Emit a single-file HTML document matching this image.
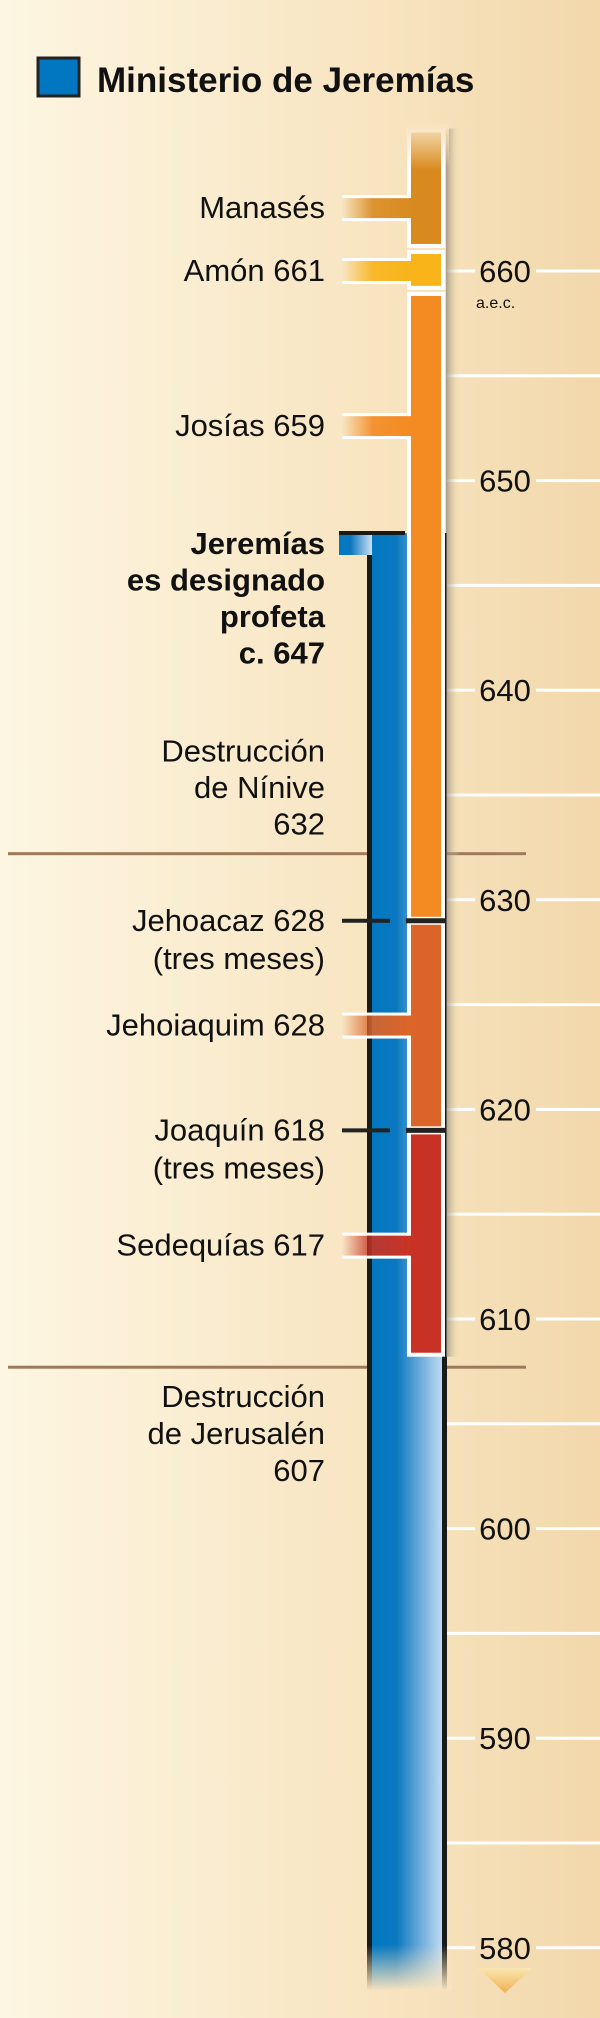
<!DOCTYPE html>
<html><head><meta charset="utf-8"><style>
html,body{margin:0;padding:0;width:600px;height:2018px;overflow:hidden}
svg{display:block}
text{font-family:"Liberation Sans",sans-serif;fill:#111}
</style></head><body>
<svg id="chart" width="600" height="2018" viewBox="0 0 600 2018" xmlns="http://www.w3.org/2000/svg">
<defs>
<linearGradient id="bg" x1="0" x2="1" y1="0" y2="0"><stop offset="0" stop-color="#fdf6e2"/><stop offset="0.6" stop-color="#f8e5c2"/><stop offset="1" stop-color="#f2d8ab"/></linearGradient>
<linearGradient id="blueg" x1="0" x2="1"><stop offset="0" stop-color="#0077c0"/><stop offset="0.35" stop-color="#0a78c0"/><stop offset="1" stop-color="#cde0f4"/></linearGradient>
<linearGradient id="shadow" x1="0" x2="1"><stop offset="0" stop-color="#8a8070" stop-opacity="0.7"/><stop offset="1" stop-color="#f5e0b8" stop-opacity="0"/></linearGradient>
<linearGradient id="fadeBottom" x1="0" x2="0" y1="0" y2="1"><stop offset="0" stop-color="#f7e3bf" stop-opacity="0"/><stop offset="1" stop-color="#f7e3bf" stop-opacity="1"/></linearGradient>
<linearGradient id="fadeTop" x1="0" x2="0" y1="0" y2="1"><stop offset="0" stop-color="#f7e3bf" stop-opacity="1"/><stop offset="1" stop-color="#f7e3bf" stop-opacity="0"/></linearGradient>
<linearGradient id="arrowg" x1="0" x2="0" y1="0" y2="1"><stop offset="0" stop-color="#fbe6b0"/><stop offset="1" stop-color="#f0b050"/></linearGradient>
</defs>
<rect x="0" y="0" width="600" height="2018" fill="url(#bg)"/>
<rect x="38" y="58" width="41" height="38" fill="#0077c0" stroke="#222" stroke-width="3"/>
<text x="97" y="92" font-size="35" font-weight="bold">Ministerio de Jeremías</text>
<g id="layer"></g>
</svg>
<script>
// ---- data ----
const reignNames = ["Manasés","Amón","Josías","Jehoiaquim","Sedequías"];
const reignStart = [666.8, 661, 659, 629, 619];
const reignEnd   = [661.1, 659.1, 629, 619, 608.2];
const reignLabels = ["Manasés","Amón 661","Josías 659","Jehoiaquim 628","Sedequías 617"];
const reignLabelYear = [663.0, 660.0, 652.6, 624.0, 613.5];
const reignColors = ["#d98a1f","#f8b419","#f48a22","#dc6428","#c83224"];
const markerYears = [629, 619];
const markerLabels = [["Jehoacaz 628","(tres meses)"],["Joaquín 618","(tres meses)"]];
const ministryStart = 647.5;
const ministryEnd = 578;
const eventYears = [632.2, 607.7];
const eventLabels = [["Destrucción","de Nínive","632"],["Destrucción","de Jerusalén","607"]];
const tickYears = [660,655,650,645,640,635,630,625,620,615,610,605,600,595,590,585,580];
const tickLabels = ["660","","650","","640","","630","","620","","610","","600","","590","","580"];

// ---- axis ----
const Y0 = 271, YEAR0 = 660, PX = 20.96;
function y(yr){ return Y0 + (YEAR0 - yr) * PX; }
const NS = "http://www.w3.org/2000/svg";
const layer = document.getElementById("layer");
function mk(tag, attrs, name){
  const e = document.createElementNS(NS, tag);
  for (const k in attrs) e.setAttribute(k, attrs[k]);
  layer.appendChild(e);
  return e;
}

// event lines
eventYears.forEach((yr,i)=>{
  const l = mk("rect",{x:8,y:y(yr)-1.5,width:518,height:3,fill:"#9c7a5a"});
  
  
});

// ticks
tickYears.forEach((yr,i)=>{
  const ty = y(yr);
  if (tickLabels[i]) {
    const a = mk("rect",{x:447,y:ty-1.5,width:28,height:3,fill:"#fff"});
    
    
    const b = mk("rect",{x:536,y:ty-1.5,width:64,height:3,fill:"#fff"});
    
    
    const t = mk("text",{x:505,y:ty+11,"font-size":31,"text-anchor":"middle"});
    t.textContent = tickLabels[i];
    
    
  } else {
    const a = mk("rect",{x:447,y:ty-1.5,width:153,height:3,fill:"#fff"});
    
    
  }
});
const era = mk("text",{x:476,y:y(660)+37,"font-size":16});
era.textContent = "a.e.c.";



// ministry bar
const mTop = y(ministryStart), mBot = y(ministryEnd);
const mb = mk("rect",{x:370,y:mTop,width:75,height:mBot-mTop,fill:"url(#blueg)"});


const ml = mk("rect",{x:367,y:mTop+22,width:5,height:mBot-mTop-22,fill:"#1a1a1a"});


const mr = mk("rect",{x:442,y:mTop,width:5,height:mBot-mTop,fill:"#1a1a1a"});


const mc = mk("rect",{x:339,y:mTop,width:33,height:22,fill:"url(#blueg)"});


const mt = mk("rect",{x:339,y:mTop-2,width:66,height:4,fill:"#1a1a1a"});


const mf = mk("rect",{x:360,y:mBot-45,width:92,height:46,fill:"url(#fadeBottom)"});


["Jeremías","es designado","profeta","c. 647"].forEach((s,i)=>{
  const t = mk("text",{x:325,y:mTop+21+i*36.5,"font-size":31,"font-weight":"bold","text-anchor":"end"});
  t.textContent = s;
  
  
});

// shadow beside reign bars
const sh = mk("rect",{x:446,y:y(reignStart[0]),width:14,height:y(reignEnd[4])-y(reignStart[0]),fill:"url(#shadow)"});



// reign bars + connectors + labels
reignNames.forEach((n,i)=>{
  const t0 = y(reignStart[i]), t1 = y(reignEnd[i]);
  const r = mk("rect",{x:409,y:t0+2,width:34,height:t1-t0-4,fill:reignColors[i],stroke:"#fff","stroke-width":4});
  
  
  const gid = "cg"+i;
  const g = document.createElementNS(NS,"linearGradient");
  g.setAttribute("id",gid);
  g.innerHTML = '<stop offset="0" stop-color="'+reignColors[i]+'" stop-opacity="0"/><stop offset="0.45" stop-color="'+reignColors[i]+'" stop-opacity="0.9"/><stop offset="1" stop-color="'+reignColors[i]+'"/>';
  document.querySelector("defs").appendChild(g);
  const cy = y(reignLabelYear[i]);
  const c = mk("rect",{x:342,y:cy-10,width:69,height:20,fill:"url(#"+gid+")"});
  
  
  const w1 = mk("rect",{x:342,y:cy-13,width:67,height:3,fill:"#fff"});
  
  
  const w2 = mk("rect",{x:342,y:cy+10,width:67,height:3,fill:"#fff"});
  
  
  const t = mk("text",{x:325,y:cy+10,"font-size":31,"text-anchor":"end"});
  t.textContent = reignLabels[i];
  
  
});
const ft = mk("rect",{x:405,y:y(reignStart[0])-4,width:44,height:45,fill:"url(#fadeTop)"});



// markers
markerYears.forEach((yr,i)=>{
  const my = y(yr);
  const a = mk("rect",{x:342,y:my-2,width:48,height:4,fill:"#222"});
  
  
  const b = mk("rect",{x:406,y:my-2.5,width:40,height:5,fill:"#222"});
  
  
  markerLabels[i].forEach((s,j)=>{
    const t = mk("text",{x:325,y:my+10+j*38,"font-size":31,"text-anchor":"end"});
    t.textContent = s;
    
    
  });
});

// event labels
eventYears.forEach((yr,i)=>{
  const ey = y(yr);
  eventLabels[i].forEach((s,j)=>{
    const by = i===0 ? ey-92+j*36.5 : ey+40+j*37;
    const t = mk("text",{x:325,y:by,"font-size":31,"text-anchor":"end"});
    t.textContent = s;
    
    
  });
});

// arrow
const ar = mk("polygon",{points:"478,1968 532,1968 505,1993",fill:"url(#arrowg)"});


</script>
</body></html>
